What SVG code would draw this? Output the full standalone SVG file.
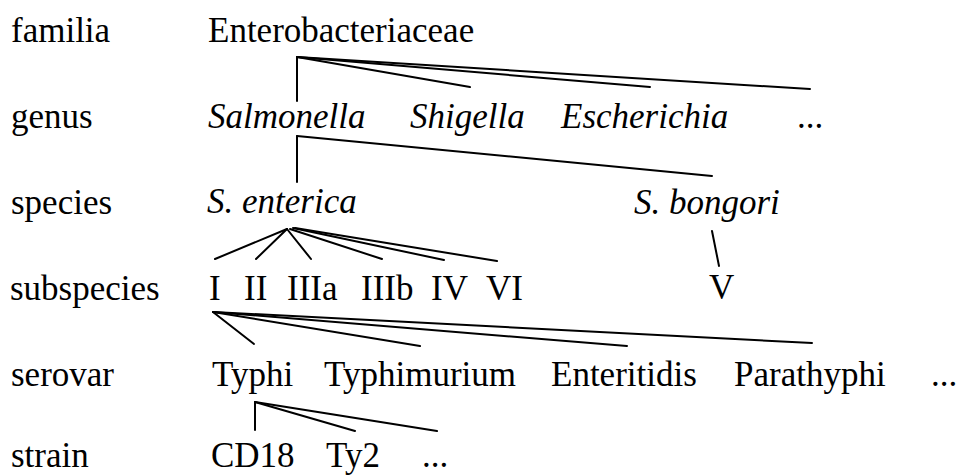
<svg xmlns="http://www.w3.org/2000/svg" width="956" height="475" viewBox="0 0 956 475">
<style>
text{font-size:35px;fill:#000}
.i{font-style:italic}
.c line{stroke:#000;stroke-width:2;stroke-linecap:round}
</style>
<rect width="956" height="475" fill="#fff"/>
<g font-family="Liberation Serif, Times New Roman, serif">
<g id="levels">
<text x="11" y="42">familia</text>
<text x="11" y="128">genus</text>
<text x="11" y="214">species</text>
<text x="10" y="300">subspecies</text>
<text x="11" y="386">serovar</text>
<text x="11" y="467">strain</text>
</g>
<g id="n-enterobacteriaceae"><text x="208" y="42">Enterobacteriaceae</text></g>
<g id="n-salmonella"><text class="i" x="208" y="128">Salmonella</text></g>
<g id="n-shigella"><text class="i" x="410" y="128">Shigella</text></g>
<g id="n-escherichia"><text class="i" x="561" y="128">Escherichia</text></g>
<g id="n-genus-more"><text x="797" y="128">...</text></g>
<g id="n-enterica"><text class="i" x="207" y="213">S. enterica</text></g>
<g id="n-bongori"><text class="i" x="634" y="214">S. bongori</text></g>
<g id="n-I"><text x="209" y="300">I</text></g>
<g id="n-II"><text x="244" y="300">II</text></g>
<g id="n-IIIa"><text x="287" y="300">IIIa</text></g>
<g id="n-IIIb"><text x="361" y="300">IIIb</text></g>
<g id="n-IV"><text x="431" y="300">IV</text></g>
<g id="n-VI"><text x="486" y="300">VI</text></g>
<g id="n-V"><text x="709" y="299">V</text></g>
<g id="n-typhi"><text x="212" y="386">Typhi</text></g>
<g id="n-typhimurium"><text x="324" y="386">Typhimurium</text></g>
<g id="n-enteritidis"><text x="551" y="386">Enteritidis</text></g>
<g id="n-parathyphi"><text x="734" y="386">Parathyphi</text></g>
<g id="n-serovar-more"><text x="931" y="386">...</text></g>
<g id="n-cd18"><text x="211" y="467">CD18</text></g>
<g id="n-ty2"><text x="326" y="467">Ty2</text></g>
<g id="n-strain-more"><text x="422" y="467">...</text></g>
</g>
<g id="connectors" class="c">
<line x1="297" y1="57" x2="297" y2="101"/>
<line x1="297" y1="57" x2="470" y2="87"/>
<line x1="297" y1="57" x2="650" y2="87"/>
<line x1="297" y1="57" x2="810" y2="89"/>
<line x1="297" y1="136" x2="297" y2="182"/>
<line x1="297" y1="136" x2="712" y2="176"/>
<line x1="287" y1="229" x2="215" y2="259"/>
<line x1="287" y1="229" x2="256" y2="259"/>
<line x1="287" y1="229" x2="311" y2="259"/>
<line x1="290" y1="229" x2="382" y2="259"/>
<line x1="293" y1="228" x2="444" y2="260"/>
<line x1="295" y1="228" x2="497" y2="261"/>
<line x1="712" y1="231" x2="719" y2="266"/>
<line x1="213" y1="312" x2="254" y2="344"/>
<line x1="213" y1="312" x2="420" y2="346"/>
<line x1="213" y1="312" x2="627" y2="346"/>
<line x1="213" y1="312" x2="812" y2="343"/>
<line x1="255" y1="402" x2="255" y2="430"/>
<line x1="255" y1="402" x2="355" y2="431"/>
<line x1="255" y1="402" x2="437" y2="431"/>
</g>
</svg>
